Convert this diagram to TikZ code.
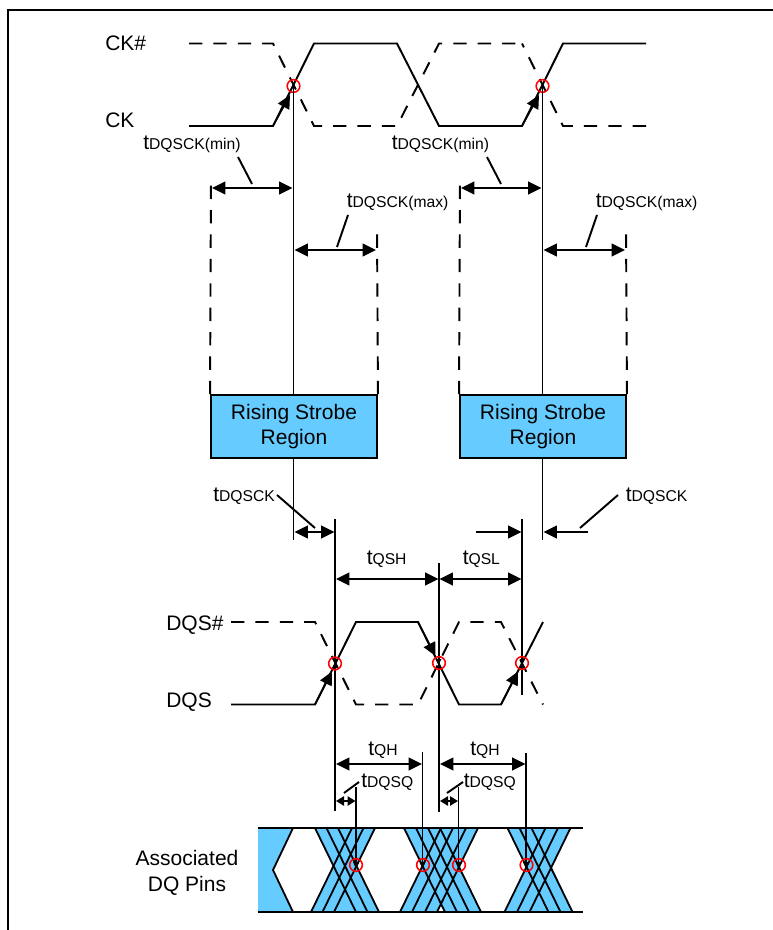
\documentclass[tikz,border=0pt]{standalone}
\usepackage{fontspec}
\setmainfont{Liberation Sans}
\usepackage{tikz}
\usetikzlibrary{arrows.meta}
\definecolor{regionblue}{RGB}{102,204,255}
\newcommand{\tname}[1]{{\fontsize{15.75}{18}\selectfont t}{\fontsize{11.75}{14}\selectfont #1}}
\tikzset{
    sig/.style={line width=1.45pt},
    dashsig/.style={line width=1.45pt,dash pattern=on 10pt off 8.3pt},
    dim/.style={line width=1.2pt,{Triangle[length=10pt,width=9.5pt]}-{Triangle[length=10pt,width=9.5pt]}},
    tipto/.style={line width=1.2pt,-{Triangle[length=10pt,width=9.5pt]}},
    smalldim/.style={line width=1.2pt,{Triangle[length=6pt,width=7pt]}-{Triangle[length=6pt,width=7pt]}},
    pinlabel/.style={anchor=base west,inner sep=0pt,font=\fontsize{15.75}{18}\selectfont},
    timing/.style={anchor=base west,inner sep=0pt},
    region/.style={draw,line width=1.45pt,fill=regionblue,minimum width=124.5pt,minimum height=47pt,inner sep=0pt,align=center,font=\fontsize{15.75}{18.75}\selectfont},
    crossing/.style={circle,draw=red,line width=1.15pt,minimum size=9.5pt,inner sep=0pt},
    eye/.style={line width=1.35pt},
    pinch/.style={fill=black},
}
\begin{document}
\begin{tikzpicture}[x=0.75pt,y=-0.75pt]
    \useasboundingbox (0,0) rectangle (773,930);
    \draw[line width=1.7pt] (8,930) -- (8,10) -- (773,10);

    % clock
    \draw[sig] (189,126) -- (273,126) -- (314,43.5) -- (397,43.5) -- (439,126) -- (522,126) -- (563,43.5) -- (646,43.5);
    \draw[dashsig] (189,43.5) -- (273,43.5) -- (314,126) -- (397,126) -- (439,43.5) -- (522,43.5);
    \draw[dashsig] (646,126) -- (563,126) -- (522,43.5);
    \draw[tipto] (273,126) -- (290,95);
    \draw[tipto] (522,126) -- (539,95);
    \node[pinlabel] (ckbar) at (105,51) {CK\#};
    \node[pinlabel] (ck) at (105,128) {CK};

    % strobe regions
    \node[region] (regionA) at (294,426.5) {Rising Strobe\\Region};
    \node[region] (regionB) at (543,426.5) {Rising Strobe\\Region};
    \node[crossing] (ckA) at (293.5,86) {};
    \node[crossing] (ckB) at (542.5,86) {};
    \draw[sig] (ckA.center) -- (293.5,395);
    \draw[sig] (ckB.center) -- (542.5,395);
    \draw[sig] (293.5,458) -- (293.5,540);
    \draw[sig] (542.5,458) -- (542.5,540);
    \draw[dashsig] (regionA.north west) -- (211,175);
    \draw[dashsig] (regionA.north east) -- (377,229);
    \draw[dashsig] (regionB.north west) -- (460,175);
    \draw[dashsig] (regionB.north east) -- (626,229);

    \draw[dim] (212,188) -- (292.5,188);
    \draw[dim] (294.5,250) -- (376,250);
    \draw[dim] (461,188) -- (541.5,188);
    \draw[dim] (543.5,250) -- (625,250);
    \draw[sig] (238,157) -- (252,184);
    \draw[sig] (348,215) -- (337,247);
    \draw[sig] (487,157) -- (501,184);
    \draw[sig] (597,215) -- (586,247);
    \node[timing] (minA) at (143,150) {\tname{DQSCK(min)}};
    \node[timing] (maxA) at (346.5,207.5) {\tname{DQSCK(max)}};
    \node[timing] (minB) at (391.5,150) {\tname{DQSCK(min)}};
    \node[timing] (maxB) at (595.5,207.5) {\tname{DQSCK(max)}};

    % strobe
    \draw[sig] (231,704.5) -- (315,704.5) -- (356,622) -- (418,622) -- (459,704.5) -- (501,704.5) -- (543,622);
    \draw[dashsig] (231,622) -- (315,622) -- (356,704.5) -- (418,704.5) -- (459,622) -- (501,622) -- (543,704.5);
    \draw[tipto] (315,704.5) -- (332,671.5);
    \draw[tipto] (418,622) -- (435.5,656);
    \draw[tipto] (501,704.5) -- (518,671.5);
    \node[pinlabel] (dqsbar) at (166,630) {DQS\#};
    \node[pinlabel] (dqs) at (166,707) {DQS};

    \draw[sig] (335,519) -- (335,811);
    \draw[sig] (439,563) -- (439,812);
    \draw[sig] (522,519) -- (522,695);
    \draw[dim] (294.5,532) -- (334.5,532);
    \draw[tipto] (476,532) -- (521.5,532);
    \draw[tipto] (588,532) -- (543.5,532);
    \draw[sig] (277,495) -- (315,528);
    \draw[sig] (618,495) -- (580,528);
    \node[timing] (skewA) at (213,501.5) {\tname{DQSCK}};
    \node[timing] (skewB) at (625.5,501.5) {\tname{DQSCK}};

    \draw[dim] (336,579) -- (438.5,579);
    \draw[dim] (439.5,579) -- (521.5,579);
    \node[timing] (qsh) at (366.5,564.5) {\tname{QSH}};
    \node[timing] (qsl) at (462.5,564) {\tname{QSL}};

    % data eye
    \fill[regionblue] (258,828) -- (293,828) -- (273,870) -- (293,912) -- (258,912) -- cycle;
    \fill[regionblue] (315,828) -- (375,828) -- (356.5,866) -- (379,912) -- (311,912) -- (333.5,866) -- cycle;
    \fill[regionblue] (404,828) -- (478,828) -- (459.5,866) -- (481,912) -- (445,912) -- (441,904) -- (437,912) -- (400,912) -- (422.5,866) -- cycle;
    \fill[regionblue] (507.5,828) -- (570.5,828) -- (551.5,866) -- (573,912) -- (504.5,912) -- (526,866) -- cycle;
    \draw[eye] (293,828) -- (273,870) -- (293,912);
    \draw[eye] (315,828) -- (356,912);
    \draw[eye] (326.5,828) -- (367.5,912);
    \draw[eye] (338,828) -- (379,912);
    \draw[eye] (311,912) -- (352,828);
    \draw[eye] (322.5,912) -- (363.5,828);
    \draw[eye] (334,912) -- (375,828);
    \draw[eye] (404,828) -- (445,912);
    \draw[eye] (416,828) -- (457,912);
    \draw[eye] (428,828) -- (469,912);
    \draw[eye] (440,828) -- (481,912);
    \draw[eye] (400,912) -- (441,828);
    \draw[eye] (412,912) -- (453,828);
    \draw[eye] (425,912) -- (466,828);
    \draw[eye] (437,912) -- (478,828);
    \draw[eye] (507.5,828) -- (548.5,912);
    \draw[eye] (519.5,828) -- (560.5,912);
    \draw[eye] (531.5,828) -- (572.5,912);
    \draw[eye] (504.5,912) -- (545.5,828);
    \draw[eye] (517,912) -- (558,828);
    \draw[eye] (529.5,912) -- (570.5,828);
    \draw[sig] (258,828) -- (583,828);
    \draw[sig] (258,912) -- (583,912);
    \node[pinlabel,anchor=base] (assoc) at (187,865) {Associated};
    \node[pinlabel,anchor=base] (pins) at (187,891.5) {DQ Pins};

    \draw[sig] (422.5,752) -- (422.5,865);
    \draw[sig] (526,753) -- (526,865);
    \draw[sig] (356,787) -- (356,865);
    \draw[sig] (458.5,787) -- (458.5,865);
    \draw[dim] (336,764) -- (422,764);
    \draw[dim] (440,764) -- (525.5,764);
    \draw[smalldim] (336,801) -- (355.5,801);
    \draw[smalldim] (440,801) -- (458,801);
    \draw[sig] (344,793) -- (359,782);
    \draw[sig] (447,793) -- (463,782);
    \node[timing] (qhA) at (368,755) {\tname{QH}};
    \node[timing] (qhB) at (470,755) {\tname{QH}};
    \node[timing] (dqsqA) at (361,787.5) {\tname{DQSQ}};
    \node[timing] (dqsqB) at (463.5,787.5) {\tname{DQSQ}};

    % small marks in the red circles
    \fill[pinch] (332.5,659) -- (337.5,659) -- (332.5,668) -- (337.5,668) -- cycle;
    \fill[pinch] (436.5,659) -- (441.5,659) -- (436.5,668) -- (441.5,668) -- cycle;
    \fill[pinch] (519.5,659) -- (524.5,659) -- (519.5,668) -- (524.5,668) -- cycle;
    \fill[pinch] (353,862) -- (359,862) -- (356,869) -- cycle;
    \fill[pinch] (419.5,862) -- (425.5,862) -- (422.5,869) -- cycle;
    \fill[pinch] (455.5,862) -- (461.5,862) -- (458.5,869) -- cycle;
    \fill[pinch] (523,862) -- (529,862) -- (526,869) -- cycle;
    \node[crossing] (dqsA) at (335,663.5) {};
    \node[crossing] (dqsB) at (439,663) {};
    \node[crossing] (dqsC) at (522,663) {};
    \node[crossing] (dqA) at (356,865) {};
    \node[crossing] (dqB) at (423,865) {};
    \node[crossing] (dqC) at (459,865) {};
    \node[crossing] (dqD) at (526.5,865) {};
\end{tikzpicture}
\end{document}
